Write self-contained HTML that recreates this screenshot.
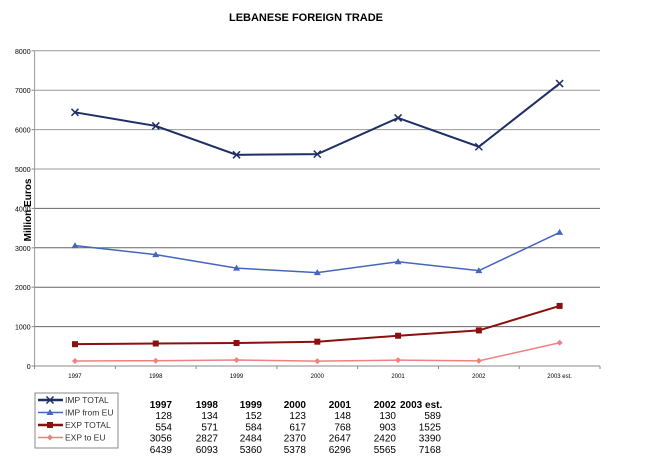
<!DOCTYPE html>
<html><head><meta charset="utf-8"><style>
body{margin:0;background:#fff;width:650px;height:457px;overflow:hidden;font-family:"Liberation Sans",Arial,sans-serif}
svg text{font-family:"Liberation Sans",Arial,sans-serif}
</style></head><body>
<svg id="chart" width="650" height="457" xmlns="http://www.w3.org/2000/svg">
<text x="306" y="21" text-anchor="middle" font-size="11" font-weight="bold">LEBANESE FOREIGN TRADE</text>
<text transform="translate(31,210) rotate(-90)" text-anchor="middle" font-size="10" font-weight="bold">Million Euros</text>
<g id="grid"></g><g id="axes"></g><g id="series"></g>
<g>
<rect x="35" y="393" width="83" height="55" fill="#fff" stroke="#888" stroke-width="1"/>
<g id="legend-items"></g>
</g>
<g id="table" font-size="10"></g>
</svg>
<script>
const categories=["1997","1998","1999","2000","2001","2002","2003 est."];
const impTotal=[6439,6093,5360,5378,6296,5565,7168];
const impEU=[3056,2827,2484,2370,2647,2420,3390];
const expTotal=[554,571,584,617,768,903,1525];
const expEU=[128,134,152,123,148,130,589];
const yTicks=[0,1000,2000,3000,4000,5000,6000,7000,8000];
const tableHeader=["1997","1998","1999","2000","2001","2002","2003  est."];
const tableRows=[expEU,expTotal,impEU,impTotal];
const seriesNames=["IMP TOTAL","IMP from EU","EXP TOTAL","EXP to EU"];
const NS="http://www.w3.org/2000/svg";
const X0=34.6,X1=600,Y0=366,YMAX=8000,YTOP=50.8;
const bw=(X1-X0)/categories.length;
const xs=i=>X0+bw*(i+0.5);
const ys=v=>Y0-(v/YMAX)*(Y0-YTOP);
function mk(tag,attrs,parent){const e=document.createElementNS(NS,tag);for(const k in attrs)e.setAttribute(k,attrs[k]);parent.appendChild(e);return e;}
const grid=document.getElementById('grid'),axes=document.getElementById('axes'),ser=document.getElementById('series');
yTicks.forEach(t=>{
 const y=ys(t);
 if(t>0){const g=mk('line',{x1:X0,x2:X1,y1:y,y2:y,stroke:t>=5000?'#999':'#666','stroke-width':1},grid);
 
 }
 mk('line',{x1:X0-3,x2:X0,y1:y,y2:y,stroke:'#888'},axes);
 const tx=mk('text',{x:X0-4,y:y+3,'text-anchor':'end','font-size':7},axes);tx.textContent=t;
 
 
});
mk('line',{x1:X0,x2:X0,y1:YTOP,y2:Y0,stroke:'#999'},axes);
mk('line',{x1:X0,x2:X1,y1:Y0,y2:Y0,stroke:'#888'},axes);
for(let i=0;i<=categories.length;i++){mk('line',{x1:X0+bw*i,x2:X0+bw*i,y1:Y0,y2:Y0+3,stroke:'#888'},axes);}
categories.forEach((c,i)=>{const t=mk('text',{x:xs(i),y:Y0+12,'text-anchor':'middle','font-size':6},axes);t.textContent=c;
 
 });
const defs=[[impTotal,'#1f2f66','x'],[impEU,'#4466bb','tri'],[expTotal,'#8b1010','sq'],[expEU,'#f08080','dia']];
function marker(type,x,y,c,p){
 if(type==='x'){mk('path',{d:`M${x-3.5} ${y-3.5}L${x+3.5} ${y+3.5}M${x-3.5} ${y+3.5}L${x+3.5} ${y-3.5}`,stroke:c,'stroke-width':1.5},p);}
 else if(type==='tri'){mk('path',{d:`M${x} ${y-3.5}L${x+3.5} ${y+2.5}L${x-3.5} ${y+2.5}Z`,fill:c},p);}
 else if(type==='sq'){mk('rect',{x:x-3,y:y-3,width:6,height:6,fill:c},p);}
 else {mk('path',{d:`M${x} ${y-3}L${x+3} ${y}L${x} ${y+3}L${x-3} ${y}Z`,fill:c},p);}
}
defs.forEach((d,k)=>{
 const g=mk('g',{},ser);
 
 
 mk('polyline',{points:d[0].map((v,i)=>xs(i)+','+ys(v)).join(' '),fill:'none',stroke:d[1],'stroke-width':k==0||k==2?2:1.5},g);
 d[0].forEach((v,i)=>marker(d[2],xs(i),ys(v),d[1],g));
 const li=document.getElementById('legend-items');
 const ly=400+k*12.5;
 const lg=mk('g',{},li);
 
 
 mk('line',{x1:38,x2:63,y1:ly,y2:ly,stroke:d[1],'stroke-width':k==0||k==2?2.5:1.5},lg);
 marker(d[2],50,ly,d[1],lg);
 const t=mk('text',{x:65,y:ly+3,'font-size':8.5,fill:'#333'},lg);t.textContent=seriesNames[k];
});
const tb=document.getElementById('table');
const colR=[172,218,262,306,351,396,441];
tableHeader.forEach((h,i)=>{
 const t=mk('text',{x:i==6?400:colR[i],y:408,'text-anchor':i==6?'start':'end','font-weight':'bold'},tb);t.textContent=h;
 
 
});
tableRows.forEach((row,r)=>row.forEach((v,i)=>{
 const t=mk('text',{x:colR[i],y:419+r*11.3,'text-anchor':'end'},tb);t.textContent=v;
 
 
}));
</script>
</body></html>
